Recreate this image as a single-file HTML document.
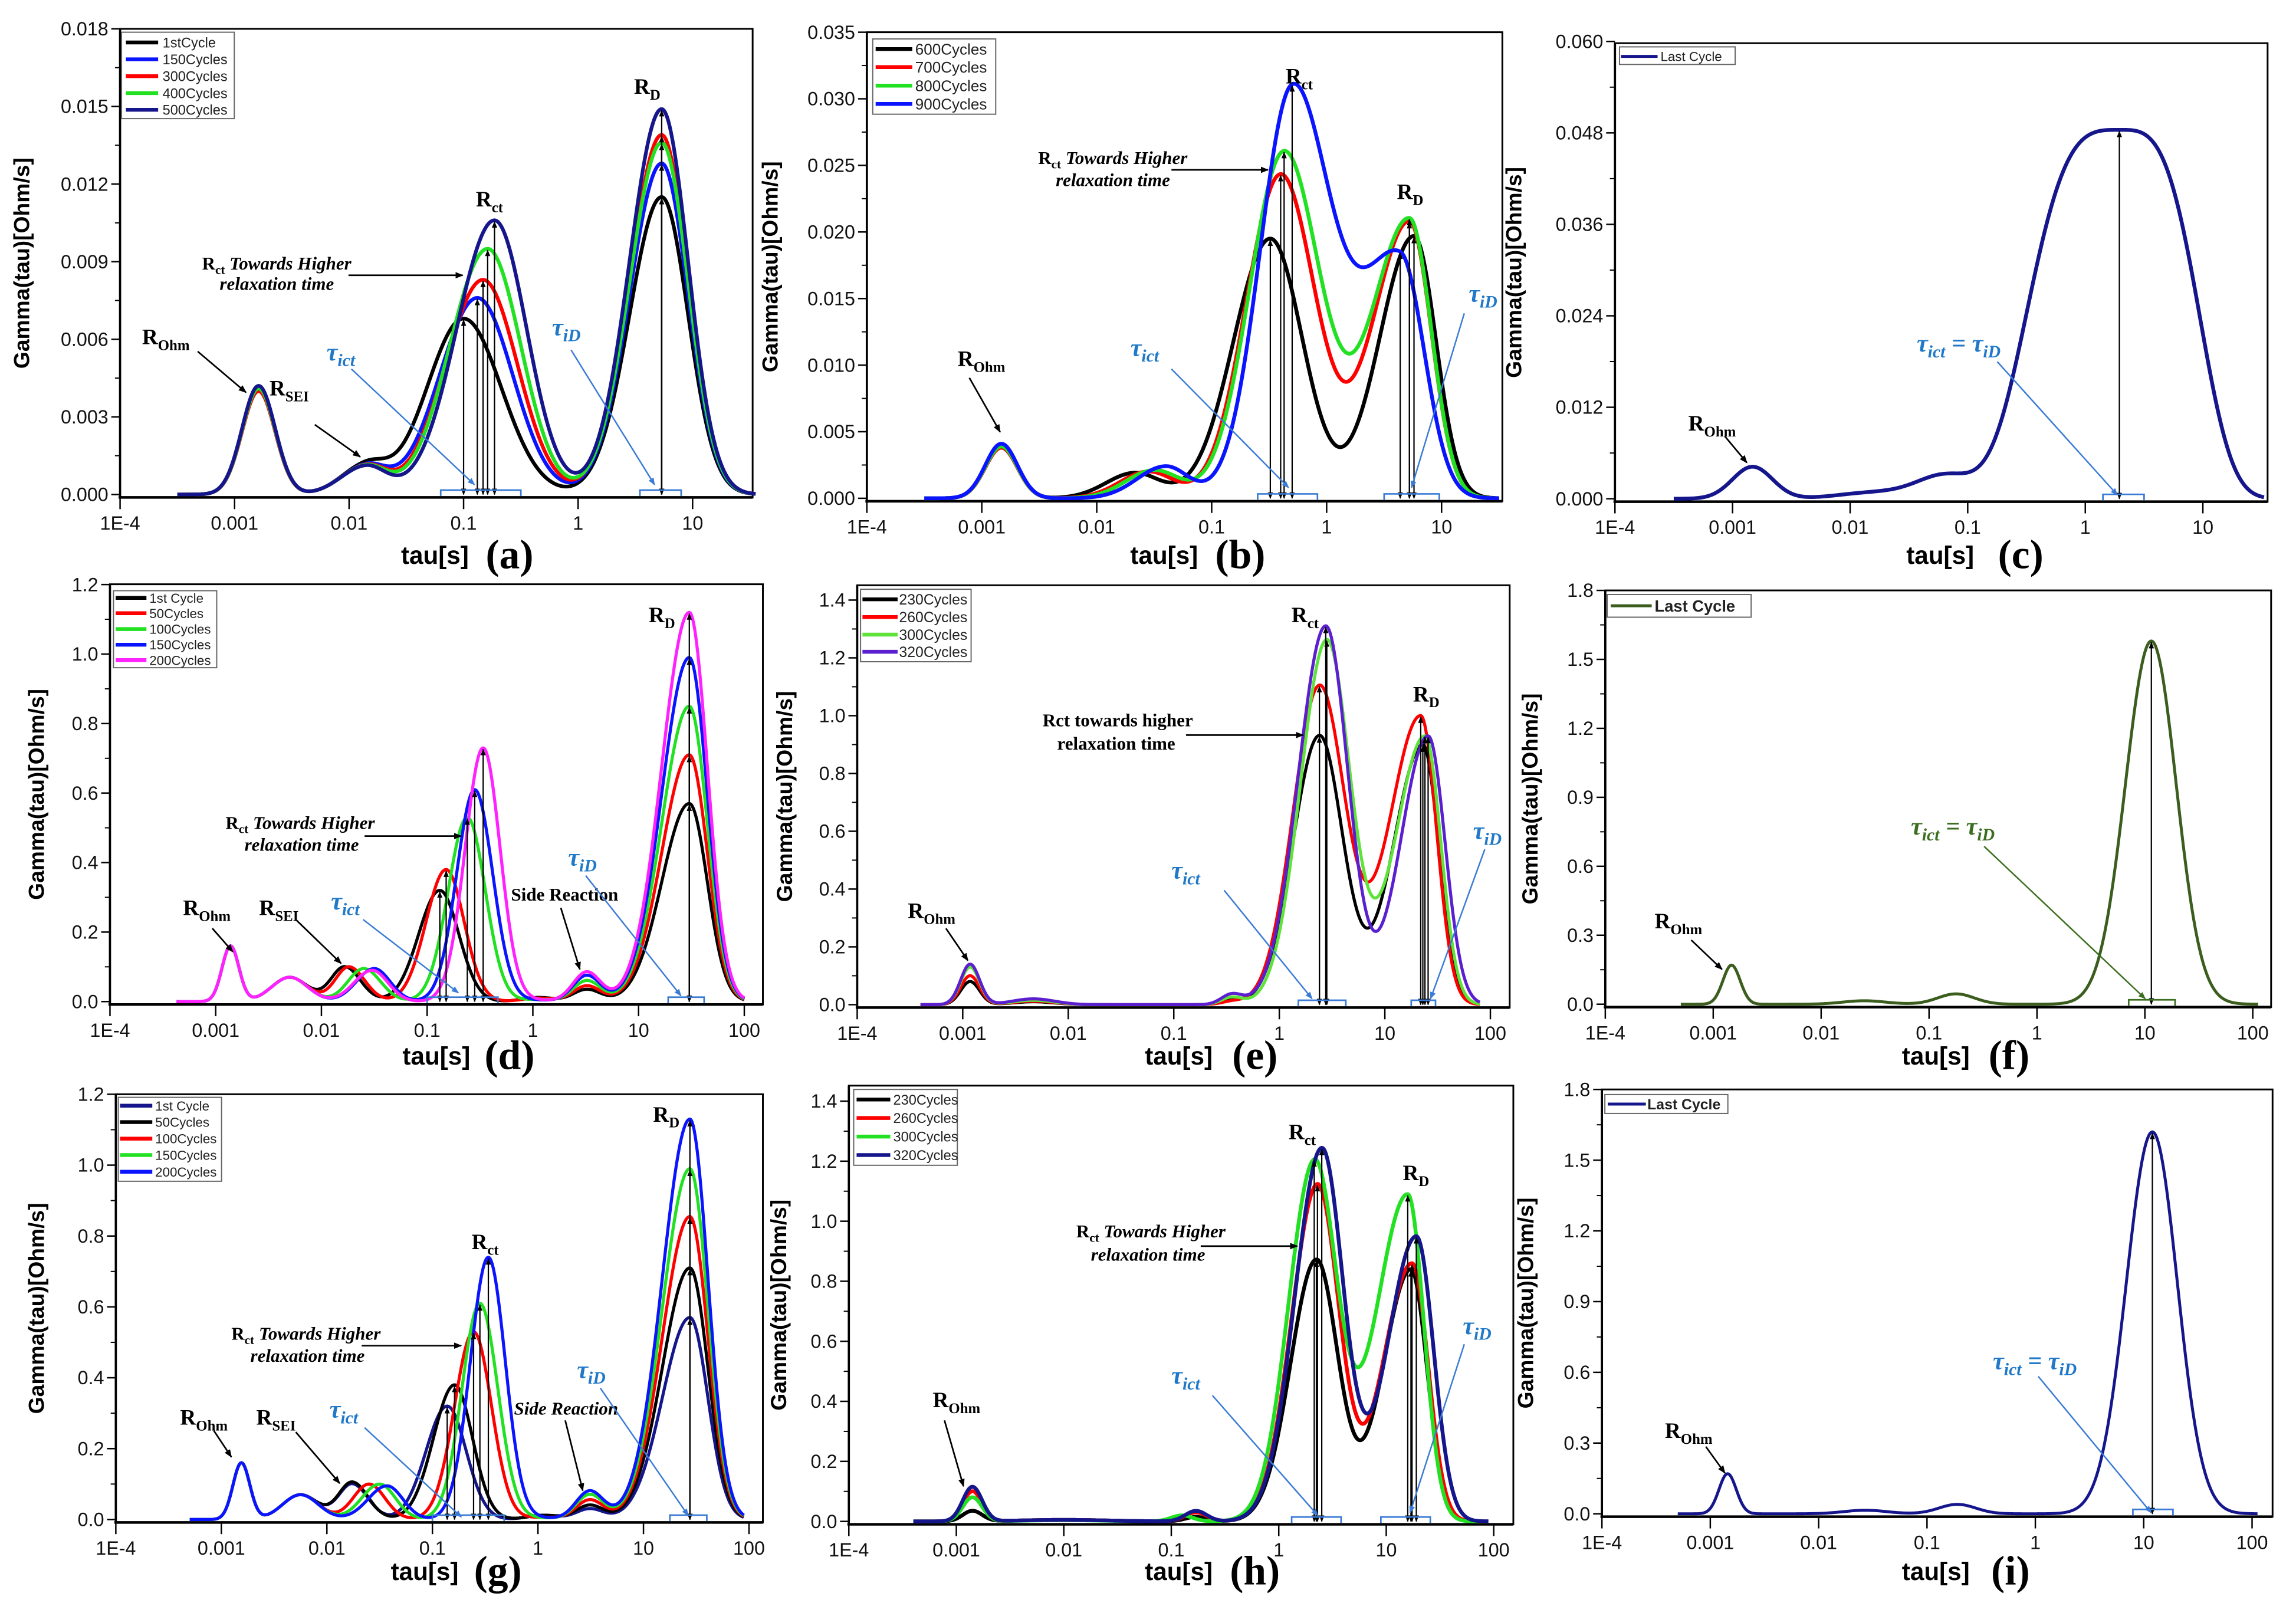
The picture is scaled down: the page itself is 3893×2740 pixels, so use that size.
<!DOCTYPE html>
<html><head><meta charset="utf-8"><title>DRT panels</title>
<style>
html,body{margin:0;padding:0;background:#fff;}
svg{display:block;}
text{font-family:"Liberation Sans",Arial,sans-serif;}
.ser{font-family:"Liberation Serif","Times New Roman",serif;font-weight:bold;}
.tau{font-family:"Liberation Serif",serif;font-weight:bold;font-style:italic;fill:#1f78c8;}
</style></head>
<body>
<svg id="fig" xmlns="http://www.w3.org/2000/svg" width="3893" height="2740" viewBox="0 0 1568 1103.6" preserveAspectRatio="none">
<defs>
<marker id="ah" viewBox="0 0 10 10" refX="9" refY="5" markerWidth="5" markerHeight="5" orient="auto-start-reverse"><path d="M0,1 L10,5 L0,9 z" fill="#000"/></marker>
<marker id="ahb" viewBox="0 0 10 10" refX="9" refY="5" markerWidth="5" markerHeight="5" orient="auto-start-reverse"><path d="M0,1 L10,5 L0,9 z" fill="#3a7bd5"/></marker>
<marker id="ahg" viewBox="0 0 10 10" refX="9" refY="5" markerWidth="5" markerHeight="5" orient="auto-start-reverse"><path d="M0,1 L10,5 L0,9 z" fill="#3b6e1f"/></marker>
</defs>
<rect x="0" y="0" width="1568" height="1103.6" fill="#fff"/>
</svg>
<script>
// ===== DATA (peaks: [log10 tau, height, sigmaLeft, sigmaRight, shapeExp?]) =====
const seriesA = ['1stCycle','150Cycles','300Cycles','400Cycles','500Cycles'];
const peaksA = [
 [[-2.79,0.0041,0.145,0.145],[-1.85,0.0011,0.22,0.18],[-1.00,0.0068,0.32,0.33],[0.73,0.0115,0.28,0.23]],
 [[-2.79,0.0041,0.145,0.145],[-1.85,0.0011,0.22,0.18],[-0.88,0.0076,0.33,0.31],[0.73,0.0128,0.28,0.23]],
 [[-2.79,0.0040,0.145,0.145],[-1.85,0.0011,0.22,0.18],[-0.83,0.0083,0.33,0.30],[0.73,0.0139,0.28,0.23]],
 [[-2.79,0.0041,0.145,0.145],[-1.85,0.0011,0.22,0.18],[-0.79,0.0095,0.33,0.29],[0.73,0.0136,0.28,0.23]],
 [[-2.79,0.0042,0.145,0.145],[-1.85,0.0011,0.22,0.18],[-0.73,0.0106,0.33,0.28],[0.73,0.0149,0.28,0.23]]
];
const yTicksA = [0,0.003,0.006,0.009,0.012,0.015,0.018];

const seriesB = ['600Cycles','700Cycles','800Cycles','900Cycles'];
const peaksB = [
 [[-2.83,0.0040,0.14,0.14],[-1.67,0.0019,0.25,0.22],[-0.49,0.0195,0.32,0.28],[0.76,0.0197,0.30,0.19]],
 [[-2.83,0.0038,0.14,0.14],[-1.55,0.0020,0.25,0.22],[-0.40,0.0243,0.30,0.30],[0.72,0.0208,0.32,0.19]],
 [[-2.83,0.0039,0.14,0.14],[-1.50,0.0021,0.25,0.22],[-0.37,0.0260,0.30,0.31],[0.72,0.0210,0.33,0.19]],
 [[-2.83,0.0041,0.14,0.14],[-1.40,0.0024,0.25,0.20],[-0.30,0.0305,0.28,0.33],[0.64,0.0180,0.36,0.21]]
];
const yTicksB = [0,0.005,0.010,0.015,0.020,0.025,0.030,0.035];

const seriesC = ['Last Cycle'];
const peaksC = [
 [[-2.83,0.0042,0.17,0.17],[-1.80,0.0008,0.30,0.30],[-1.18,0.0031,0.25,0.25],[0.29,0.0484,0.72,0.62,3.5]]
];
const yTicksC = [0,0.012,0.024,0.036,0.048,0.060];

const seriesD = ['1st Cycle','50Cycles','100Cycles','150Cycles','200Cycles'];
const peaksD = [
 [[-2.86,0.16,0.08,0.08],[-2.30,0.07,0.17,0.17],[-1.78,0.10,0.13,0.15],[-0.88,0.32,0.20,0.18],[0.05,0.012,0.15,0.15],[0.51,0.035,0.13,0.13],[1.48,0.57,0.26,0.17]],
 [[-2.86,0.16,0.08,0.08],[-2.30,0.07,0.17,0.17],[-1.74,0.10,0.13,0.15],[-0.82,0.38,0.19,0.17],[0.05,0.010,0.15,0.15],[0.51,0.045,0.13,0.13],[1.48,0.71,0.26,0.17]],
 [[-2.86,0.16,0.08,0.08],[-2.30,0.07,0.17,0.17],[-1.60,0.095,0.15,0.16],[-0.62,0.53,0.18,0.17],[0.05,0.006,0.15,0.15],[0.51,0.060,0.13,0.13],[1.48,0.85,0.26,0.17]],
 [[-2.86,0.16,0.08,0.08],[-2.30,0.07,0.17,0.17],[-1.50,0.095,0.17,0.15],[-0.55,0.61,0.17,0.17],[0.05,0.004,0.15,0.15],[0.51,0.075,0.13,0.13],[1.48,0.99,0.26,0.17]],
 [[-2.86,0.16,0.08,0.08],[-2.30,0.07,0.17,0.17],[-1.52,0.09,0.17,0.15],[-0.47,0.73,0.17,0.16],[0.05,0.004,0.15,0.15],[0.51,0.085,0.13,0.13],[1.48,1.12,0.26,0.17]]
];
const yTicksD = [0,0.2,0.4,0.6,0.8,1.0,1.2];

const seriesE = ['230Cycles','260Cycles','300Cycles','320Cycles'];
const peaksE = [
 [[-2.93,0.08,0.09,0.09],[-2.33,0.010,0.2,0.2],[-0.45,0.015,0.1,0.1],[0.38,0.93,0.25,0.22],[1.36,0.90,0.28,0.15]],
 [[-2.93,0.10,0.09,0.09],[-2.33,0.012,0.2,0.2],[-0.45,0.010,0.1,0.1],[0.38,1.10,0.25,0.24],[1.34,1.00,0.30,0.15]],
 [[-2.93,0.13,0.09,0.09],[-2.33,0.015,0.2,0.2],[-0.45,0.025,0.1,0.1],[0.45,1.26,0.25,0.22],[1.38,0.93,0.28,0.15]],
 [[-2.93,0.14,0.09,0.09],[-2.33,0.020,0.2,0.2],[-0.45,0.035,0.1,0.1],[0.44,1.31,0.26,0.21],[1.41,0.93,0.26,0.16]]
];
const yTicksE = [0,0.2,0.4,0.6,0.8,1.0,1.2,1.4];

const seriesF = ['Last Cycle'];
const peaksF = [
 [[-2.83,0.17,0.08,0.08],[-1.60,0.015,0.2,0.2],[-0.75,0.045,0.17,0.17],[1.06,1.58,0.24,0.23]]
];
const yTicksF = [0,0.3,0.6,0.9,1.2,1.5,1.8];

const seriesG = ['1st Cycle','50Cycles','100Cycles','150Cycles','200Cycles'];
const peaksG = [
 [[-2.81,0.16,0.08,0.08],[-2.25,0.07,0.17,0.17],[-1.76,0.10,0.13,0.15],[-0.86,0.32,0.20,0.18],[0.05,0.012,0.15,0.15],[0.49,0.030,0.13,0.13],[1.44,0.57,0.26,0.17]],
 [[-2.81,0.16,0.08,0.08],[-2.25,0.07,0.17,0.17],[-1.76,0.105,0.13,0.15],[-0.79,0.38,0.20,0.17],[0.05,0.012,0.15,0.15],[0.49,0.040,0.13,0.13],[1.44,0.71,0.26,0.17]],
 [[-2.81,0.16,0.08,0.08],[-2.25,0.07,0.17,0.17],[-1.60,0.10,0.15,0.15],[-0.61,0.53,0.18,0.17],[0.05,0.006,0.15,0.15],[0.49,0.055,0.13,0.13],[1.44,0.855,0.26,0.17]],
 [[-2.81,0.16,0.08,0.08],[-2.25,0.07,0.17,0.17],[-1.50,0.10,0.17,0.15],[-0.55,0.61,0.17,0.17],[0.05,0.004,0.15,0.15],[0.49,0.070,0.13,0.13],[1.44,0.99,0.26,0.17]],
 [[-2.81,0.16,0.08,0.08],[-2.25,0.07,0.17,0.17],[-1.43,0.095,0.18,0.15],[-0.47,0.74,0.17,0.16],[0.05,0.004,0.15,0.15],[0.49,0.080,0.13,0.13],[1.44,1.13,0.26,0.17]]
];
const yTicksG = [0,0.2,0.4,0.6,0.8,1.0,1.2];

const seriesH = ['230Cycles','260Cycles','300Cycles','320Cycles'];
const peaksH = [
 [[-2.85,0.035,0.09,0.09],[-2.0,0.005,0.4,0.4],[-0.77,0.015,0.1,0.1],[0.35,0.87,0.24,0.20],[1.23,0.84,0.26,0.15]],
 [[-2.85,0.100,0.09,0.09],[-2.0,0.005,0.4,0.4],[-0.77,0.030,0.1,0.1],[0.36,1.12,0.24,0.20],[1.24,0.86,0.27,0.15]],
 [[-2.85,0.080,0.09,0.09],[-2.0,0.004,0.4,0.4],[-0.90,0.020,0.1,0.1],[0.33,1.19,0.24,0.21],[1.20,1.09,0.30,0.15]],
 [[-2.85,0.115,0.09,0.09],[-2.0,0.005,0.4,0.4],[-0.77,0.035,0.1,0.1],[0.40,1.24,0.25,0.20],[1.28,0.95,0.27,0.16]]
];
const yTicksH = [0,0.2,0.4,0.6,0.8,1.0,1.2,1.4];

const seriesI = ['Last Cycle'];
const peaksI = [
 [[-2.84,0.17,0.08,0.08],[-1.57,0.015,0.2,0.2],[-0.72,0.040,0.17,0.17],[1.08,1.62,0.24,0.23]]
];
const yTicksI = [0,0.3,0.6,0.9,1.2,1.5,1.8];

const xTickLabels = ['1E-4','0.001','0.01','0.1','1','10','100'];

// ===== LAYOUT =====
const NS='http://www.w3.org/2000/svg';
const svg=document.getElementById('fig');
function el(tag,attrs,parent){const e=document.createElementNS(NS,tag);for(const k in attrs)e.setAttribute(k,attrs[k]);(parent||svg).appendChild(e);return e;}
function gam(pk,l){let s=0;for(const q of pk){const d=l-q[0];const sg=d<0?q[2]:q[3];const p=q[4]||2;s+=q[1]*Math.exp(-0.5*Math.pow(Math.abs(d)/sg,p));}return s;}

const NAVY='#16168c', BLK='#000', RED='#ff0000', GRN='#22e022', BLU='#0a14ff', MAG='#ff22ff', PUR='#5b1fd0', DG='#3b5e1f';

const panels=[
 {id:'a',series:seriesA,peaks:peaksA,yt:yTicksA,yd:3,x0:82,dec:78.2,y0:337.7,yRef:0.018,yRefPx:19.7,L:82,R:514,T:19.7,nx:6,lo:-3.5,hi:1.55,sw:2.5,
  colors:[BLK,BLU,RED,GRN,NAVY],arrows:[2,3],brackets:[[-1.2,-0.5],[0.54,0.9]],ytitleX:20,tauX:297,labX:348,labY:380,
  leg:{x:83,y:22,w:77,h:59,rows:[29,40.5,52,63.6,75],lx1:86,lx2:108,tx:111,fs:9.5},
  notes:[['R','Ohm',97,235],['R','SEI',184,270],['R','ct',325,141],['R','D',433,64]],
  towards:[138,184,150,198,'i'],tarrow:[238,188,316,188],
  taus:[['ict',223,246],['iD',377,229]],
  blines:[[240,252,324,331],[390,239,447,331]],
  karrows:[[135,240,168,268],[215,290,246,312]]},
 {id:'b',series:seriesB,peaks:peaksB,yt:yTicksB,yd:3,x0:592,dec:78.5,y0:340.3,yRef:0.035,yRefPx:22,L:592,R:1026,T:22,nx:6,lo:-3.5,hi:1.5,sw:2.6,
  colors:[BLK,RED,GRN,BLU],arrows:[2,3],brackets:[[-0.6,-0.08],[0.5,0.98]],ytitleX:531,tauX:795,labX:847,labY:380,
  leg:{x:596,y:26.6,w:84,h:51.4,rows:[33.5,45.8,58.5,71],lx1:598,lx2:623,tx:625,fs:10.5},
  notes:[['R','Ohm',654,250],['R','ct',878,57],['R','D',954,136]],
  towards:[709,112,721,127,'i'],tarrow:[800,116,866,116],
  taus:[['ict',772,243],['iD',1003,206]],
  blines:[[800,252,880,333],[1000,214,964,333]],
  karrows:[[662,258,683,295]]},
 {id:'c',series:seriesC,peaks:peaksC,yt:yTicksC,yd:3,x0:1102.9,dec:80.3,y0:340.6,yRef:0.060,yRefPx:28.3,L:1102.9,R:1548.6,T:29.5,nx:6,lo:-3.5,hi:1.52,sw:2.6,
  colors:[NAVY],arrows:[3],brackets:[[0.15,0.5]],ytitleX:1039,tauX:1325,labX:1380,labY:380,
  leg:{x:1106,y:32,w:79,h:12,rows:[38.5],lx1:1107,lx2:1132,tx:1134,fs:9},
  notes:[['R','Ohm',1153,294]],
  taus:[],eq:[1309,240,'#1f78c8'],
  blines:[[1364,247,1446,338]],
  karrows:[[1178,298,1193,316]]},
 {id:'d',series:seriesD,peaks:peaksD,yt:yTicksD,yd:1,x0:75.1,dec:72.2,y0:684,yRef:1.2,yRefPx:399.2,L:75.1,R:521,T:399,nx:7,lo:-3.37,hi:2.0,sw:2.1,
  colors:[BLK,RED,GRN,BLU,MAG],arrows:[3,6],brackets:[[-1.0,-0.33],[1.28,1.62]],ytitleX:30,tauX:298,labX:348,labY:722,
  leg:{x:77.5,y:403.4,w:70.5,h:52.6,rows:[408.3,418.8,429.6,440.3,450.8],lx1:79,lx2:100,tx:102,fs:9},
  notes:[['R','Ohm',125,625],['R','SEI',177,625],['R','D',443,425]],
  towards:[154,566,167,581,'i'],tarrow:[249,571,315,571],
  taus:[['ict',226,621],['iD',388,591]],
  side:[349,615,'n'],
  blines:[[248,628,313,678],[400,598,465,680]],
  karrows:[[145,634,159,650],[202,628,233,658],[383,620,396,662]]},
 {id:'e',series:seriesE,peaks:peaksE,yt:yTicksE,yd:1,x0:585.4,dec:72.07,y0:686.1,yRef:1.4,yRefPx:409.8,L:585.4,R:1031,T:399.7,nx:7,lo:-3.4,hi:1.9,sw:2.1,
  colors:[BLK,RED,'#5fe23a',PUR],arrows:[3,4],brackets:[[0.18,0.63],[1.25,1.48]],ytitleX:541,tauX:805,labX:857,labY:722,
  leg:{x:587.7,y:402.4,w:75.5,h:49.5,rows:[409.3,421.4,433.4,445.1],lx1:589,lx2:613,tx:614,fs:10},
  notes:[['R','Ohm',620,627],['R','ct',882,425],['R','D',965,479]],
  towards2:[712,496,722,512],tarrow:[810,502,890,502],
  taus:[['ict',800,600],['iD',1006,573]],
  blines:[[836,608,896,682],[1014,580,977,682]],
  karrows:[[646,634,661,656]]},
 {id:'f',series:seriesF,peaks:peaksF,yt:yTicksF,yd:1,x0:1096.3,dec:73.7,y0:685.8,yRef:1.8,yRefPx:403.2,L:1096.3,R:1551,T:403.2,nx:7,lo:-3.3,hi:2.05,sw:2.0,
  colors:[DG],arrows:[3],brackets:[[0.85,1.28]],ytitleX:1050,tauX:1322,labX:1372,labY:722,
  leg:{x:1097.6,y:406,w:98.3,h:15.5,rows:[413.7],lx1:1100,lx2:1128,tx:1130,fs:11,bold:true},
  notes:[['R','Ohm',1130,634]],
  taus:[],eq:[1305,570,'#3b6e1f'],
  blines:[[1355,578,1465,682]],gline:true,
  karrows:[[1155,642,1176,662]]},
 {id:'g',series:seriesG,peaks:peaksG,yt:yTicksG,yd:1,x0:79.1,dec:72.07,y0:1037.7,yRef:1.2,yRefPx:747.3,L:79.1,R:521,T:747.3,nx:7,lo:-3.3,hi:1.95,sw:2.1,
  colors:[NAVY,BLK,RED,GRN,BLU],arrows:[3,6],brackets:[[-1.0,-0.32],[1.25,1.6]],ytitleX:30,tauX:290,labX:340,labY:1074,
  leg:{x:80.8,y:749.4,w:70.5,h:57.3,rows:[755.1,766.3,777.6,788.8,800.2],lx1:82,lx2:104,tx:106,fs:9},
  notes:[['R','Ohm',123,973],['R','SEI',175,973],['R','ct',322,853],['R','D',446,766]],
  towards:[158,915,171,930,'i'],tarrow:[247,919,315,919],
  taus:[['ict',225,968],['iD',394,941]],
  side:[351,966,'i'],
  blines:[[249,975,315,1036],[410,948,470,1035]],
  karrows:[[146,977,158,995],[202,978,232,1013],[386,970,398,1018]]},
 {id:'h',series:seriesH,peaks:peaksH,yt:yTicksH,yd:1,x0:579.7,dec:73.4,y0:1039,yRef:1.4,yRefPx:752,L:579.7,R:1033.5,T:741.4,nx:7,lo:-3.4,hi:1.95,sw:2.6,
  colors:[BLK,RED,GRN,NAVY],arrows:[3,4],brackets:[[0.12,0.58],[0.95,1.41]],ytitleX:537,tauX:805,labX:857,labY:1074,
  leg:{x:583,y:744,w:70.8,h:51.8,rows:[750.9,763.5,776.2,788.8],lx1:585,lx2:608,tx:610,fs:9.5},
  notes:[['R','Ohm',637,961],['R','ct',880,778],['R','D',958,806]],
  towards:[735,845,745,861,'i'],tarrow:[820,851,886,851],
  taus:[['ict',800,945],['iD',999,911]],
  blines:[[828,953,900,1035],[1000,918,963,1033]],
  karrows:[[645,970,658,1015]]},
 {id:'i',series:seriesI,peaks:peaksI,yt:yTicksI,yd:1,x0:1094,dec:74,y0:1033.8,yRef:1.8,yRefPx:744,L:1094,R:1552,T:744,nx:7,lo:-3.3,hi:2.05,sw:2.0,
  colors:[NAVY],arrows:[3],brackets:[[0.9,1.27]],ytitleX:1047,tauX:1322,labX:1373,labY:1074,
  leg:{x:1096,y:747.5,w:84,h:12.9,rows:[754],lx1:1098,lx2:1124,tx:1125,fs:10,bold:true},
  notes:[['R','Ohm',1137,982]],
  taus:[],eq:[1361,935,'#1f78c8'],
  blines:[[1392,940,1469,1033]],
  karrows:[[1165,988,1178,1006]]}
];

function drawPanel(P){
  const g=el('g',{});
  
  
  const ppu=(P.y0-P.yRefPx)/P.yRef;
  const X=l=>P.x0+(l+4)*P.dec;
  const Y=v=>P.y0-v*ppu;
  const B=P.y0+2;
  const fr=el('rect',{x:P.L,y:P.T,width:P.R-P.L,height:B-P.T,fill:'none',stroke:'#000','stroke-width':1.2},g);
  
  
  const ax=el('line',{x1:P.L-1,y1:B,x2:P.R,y2:B,stroke:'#000','stroke-width':1.8},g);
  
  
  const ay=el('line',{x1:P.L,y1:P.T,x2:P.L,y2:B,stroke:'#000','stroke-width':1.5},g);
  
  
  for(let i=0;i<P.nx;i++){
    const x=X(i-4);
    el('line',{x1:x,y1:B,x2:x,y2:B+8,stroke:'#000','stroke-width':1},g);
    const t=el('text',{x:x,y:B+22,'font-size':13,'text-anchor':'middle',fill:'#111'},g);
    t.textContent=xTickLabels[i];
    
    
  }
  for(let i=0;i<P.yt.length;i++){
    const v=P.yt[i], y=Y(v);
    el('line',{x1:P.L-6,y1:y,x2:P.L,y2:y,stroke:'#000','stroke-width':1},g);
    if(i<P.yt.length-1){const ym=Y((v+P.yt[i+1])/2);el('line',{x1:P.L-3.5,y1:ym,x2:P.L,y2:ym,stroke:'#000','stroke-width':0.8},g);}
    const t=el('text',{x:P.L-8,y:y+4.5,'font-size':13,'text-anchor':'end',fill:'#111'},g);
    t.textContent=v.toFixed(P.yd);
    
    
  }
  const yc=(P.T+B)/2;
  const yt=el('text',{x:P.ytitleX,y:yc,'font-size':15,'font-weight':'bold','text-anchor':'middle',transform:'rotate(-90 '+P.ytitleX+' '+yc+')'},g);
  yt.textContent='Gamma(tau)[Ohm/s]';
  
  
  const xt=el('text',{x:P.tauX,y:P.labY+5,'font-size':17,'font-weight':'bold','text-anchor':'middle'},g);
  xt.textContent='tau[s]';
  
  
  const pl=el('text',{x:P.labX,y:P.labY+8,'font-size':28,'class':'ser','text-anchor':'middle'},g);
  pl.textContent='('+P.id+')';
  
  
  for(let s=0;s<P.series.length;s++){
    let d='';
    for(let l=P.lo;l<=P.hi+1e-9;l+=0.01){
      d+=(d?'L':'M')+X(l).toFixed(2)+','+Y(gam(P.peaks[s],l)).toFixed(2);
    }
    const c=el('path',{d:d,fill:'none',stroke:P.colors[s],'stroke-width':P.sw,'stroke-linejoin':'round'},g);
    
    
  }
  for(let s=0;s<P.series.length;s++){
    for(const k of P.arrows){
      const l=P.peaks[s][k][0], x=X(l), top=Y(gam(P.peaks[s],l));
      const a=el('line',{x1:x,y1:B-2,x2:x,y2:top+1,stroke:'#000','stroke-width':0.9,'marker-start':'url(#ah)','marker-end':'url(#ah)'},g);
      
      
    }
  }
  for(const br of P.brackets){
    const x1=X(br[0]),x2=X(br[1]);
    const b=el('path',{d:'M'+x1+','+(B-1)+' V'+(B-5)+' H'+x2+' V'+(B-1),fill:'none',stroke:P.gline?'#3b6e1f':'#3a7bd5','stroke-width':1.1},g);
    
    
  }
  const L=P.leg;
  const lg=el('g',{},g);
  
  
  el('rect',{x:L.x,y:L.y,width:L.w,height:L.h,fill:'#fff',stroke:'#666','stroke-width':0.8},lg);
  for(let s=0;s<P.series.length;s++){
    const ln=el('line',{x1:L.lx1,y1:L.rows[s],x2:L.lx2,y2:L.rows[s],stroke:P.colors[s],'stroke-width':P.series.length>1?2.6:2},lg);
    
    
    const t=el('text',{x:L.tx,y:L.rows[s]+L.fs*0.36,'font-size':L.fs,'font-weight':L.bold?'bold':'normal',fill:'#222'},lg);
    t.textContent=P.series[s];
    
    
  }
  for(const n of P.notes){
    const t=el('text',{x:n[2],y:n[3],'font-size':15,'class':'ser'},g);
    t.innerHTML=n[0]+'<tspan dy="4" font-size="10">'+n[1]+'</tspan>';
    
    
  }
  if(P.towards){
    const w=P.towards;
    const t1=el('text',{x:w[0],y:w[1],'font-size':12.5,'class':'ser','font-style':'italic'},g);
    t1.innerHTML='<tspan font-style="normal">R</tspan><tspan dy="3" font-size="8.5" font-style="normal">ct</tspan><tspan dy="-3"> Towards Higher</tspan>';
    
    
    const t2=el('text',{x:w[2],y:w[3],'font-size':12.5,'class':'ser','font-style':'italic'},g);
    t2.textContent='relaxation time';
    
    
  }
  if(P.towards2){
    const w=P.towards2;
    const t1=el('text',{x:w[0],y:w[1],'font-size':12.5,'class':'ser'},g);
    t1.textContent='Rct towards higher';
    
    
    const t2=el('text',{x:w[2],y:w[3],'font-size':12.5,'class':'ser'},g);
    t2.textContent='relaxation time';
    
    
  }
  if(P.tarrow){
    const a=P.tarrow;
    const l=el('line',{x1:a[0],y1:a[1],x2:a[2],y2:a[3],stroke:'#000','stroke-width':1.1,'marker-end':'url(#ah)'},g);
    
    
  }
  if(P.side){
    const t=el('text',{x:P.side[0],y:P.side[1],'font-size':12.5,'class':'ser','font-style':P.side[2]==='i'?'italic':'normal'},g);
    t.textContent='Side Reaction';
    
    
  }
  for(const tt of P.taus){
    const t=el('text',{x:tt[1],y:tt[2],'font-size':17,'class':'tau'},g);
    t.innerHTML='τ<tspan dy="4" font-size="12">'+tt[0]+'</tspan>';
    
    
  }
  if(P.eq){
    const t=el('text',{x:P.eq[0],y:P.eq[1],'font-size':17,'class':'tau',style:'fill:'+P.eq[2]},g);
    t.innerHTML='τ<tspan dy="4" font-size="12">ict</tspan><tspan dy="-4"> = τ</tspan><tspan dy="4" font-size="12">iD</tspan>';
    
    
  }
  for(const b of P.blines){
    const l=el('line',{x1:b[0],y1:b[1],x2:b[2],y2:b[3],stroke:P.gline?'#3b6e1f':'#3a7bd5','stroke-width':1,'marker-end':P.gline?'url(#ahg)':'url(#ahb)'},g);
    
    
  }
  for(const k of P.karrows){
    const l=el('line',{x1:k[0],y1:k[1],x2:k[2],y2:k[3],stroke:'#000','stroke-width':1.1,'marker-end':'url(#ah)'},g);
    
    
  }
}
panels.forEach(drawPanel);
</script>
</body></html>
